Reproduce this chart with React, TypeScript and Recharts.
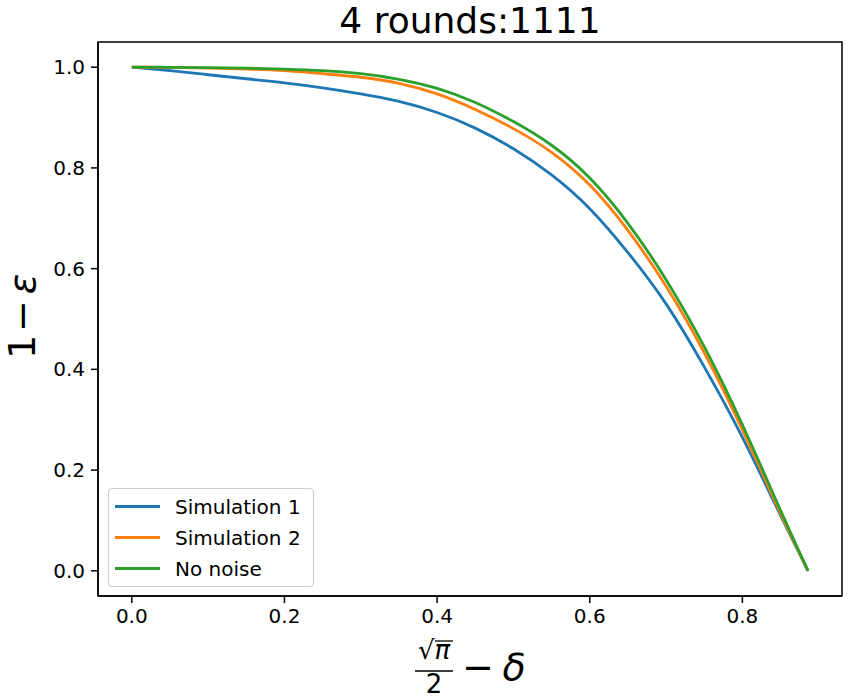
import React from 'react';
import { LineChart, Line, XAxis, YAxis, Legend, ReferenceArea, Label } from 'recharts';

const xValues = [0, 0.05, 0.1, 0.15, 0.2, 0.25, 0.3, 0.35, 0.4, 0.45, 0.5, 0.55, 0.6, 0.65, 0.7, 0.75, 0.8, 0.85, 0.886];
const simulation1 = [1.0, 0.993, 0.985, 0.977, 0.969, 0.959, 0.947, 0.932, 0.91, 0.879, 0.838, 0.786, 0.719, 0.632, 0.53, 0.405, 0.265, 0.11, 0.0];
const simulation2 = [1.0, 0.9995, 0.998, 0.996, 0.993, 0.987, 0.98, 0.968, 0.947, 0.916, 0.878, 0.831, 0.766, 0.676, 0.565, 0.433, 0.28, 0.114, 0.0];
const noNoise = [1.0, 0.9998, 0.999, 0.998, 0.996, 0.993, 0.987, 0.976, 0.958, 0.93, 0.892, 0.845, 0.78, 0.69, 0.578, 0.445, 0.29, 0.12, 0.0];
const xTicks = [0, 0.2, 0.4, 0.6, 0.8];
const yTicks = [0, 0.2, 0.4, 0.6, 0.8, 1.0];
const xDomain = [-0.0443, 0.9305];
const yDomain = [-0.05, 1.05];
const titleText = '4 rounds:1111';
const legendOrder = ['Simulation 1', 'Simulation 2', 'No noise'];

const data = xValues.map((x, i) => ({ x, s1: simulation1[i], s2: simulation2[i], nn: noNoise[i] }));

const FONT = '"DejaVu Sans", sans-serif';

const XLabel = (props: any) => {
  const vb = props.viewBox || {};
  const cx = vb.x + vb.width / 2;
  const top = vb.y;
  const fx = cx - 36;
  return (
    <g fontFamily={FONT} fill="#000">
      <text x={fx} y={top + 63} fontSize={26} textAnchor="middle">
        √<tspan fontStyle="italic">π</tspan>
      </text>
      <line x1={fx + 1} x2={fx + 19} y1={top + 45} y2={top + 45} stroke="#000" strokeWidth={1.3} />
      <line x1={fx - 19} x2={fx + 19} y1={top + 75} y2={top + 75} stroke="#000" strokeWidth={1.5} />
      <text x={fx} y={top + 97} fontSize={26} textAnchor="middle">2</text>
      <text x={cx + 8} y={top + 84} fontSize={38} textAnchor="middle">−</text>
      <text x={cx + 44} y={top + 84} fontSize={38} textAnchor="middle" fontStyle="italic">δ</text>
    </g>
  );
};

const YLabel = (props: any) => {
  const vb = props.viewBox || {};
  const bx = vb.x + 34.5;
  const cy = 42 + (596 - 42) / 2 - 3;
  return (
    <g fontFamily={FONT} fill="#000" transform={`translate(${bx}, ${cy}) rotate(-90)`}>
      <text x={-31} y={0} fontSize={38} textAnchor="middle">1</text>
      <text x={0} y={0} fontSize={38} textAnchor="middle">−</text>
      <text x={32} y={0} fontSize={38} textAnchor="middle" fontStyle="italic">ε</text>
    </g>
  );
};

const TitleLabel = (props: any) => {
  const vb = props.viewBox || {};
  return (
    <text
      x={vb.x + vb.width / 2}
      y={vb.y - 9}
      textAnchor="middle"
      fontFamily={FONT}
      fontSize={36}
      fill="#000"
    >
      {titleText}
    </text>
  );
};

const LegendBox = (props: any) => {
  const payload = [...(props.payload || [])].sort(
    (a: any, b: any) => legendOrder.indexOf(a.value) - legendOrder.indexOf(b.value)
  );
  return (
    <div
      style={{
        width: 206,
        height: 99,
        boxSizing: 'border-box',
        border: '1px solid #cccccc',
        borderRadius: 4,
        background: 'rgba(255,255,255,0.8)',
        paddingTop: 2,
        paddingLeft: 6,
        fontFamily: FONT,
        fontSize: 20,
        color: '#000',
      }}
    >
      {payload.map((entry: any) => (
        <div key={entry.value} style={{ display: 'flex', alignItems: 'center', height: 31 }}>
          <div style={{ width: 45, height: 3, background: entry.color }} />
          <span style={{ marginLeft: 15, whiteSpace: 'nowrap' }}>{entry.value}</span>
        </div>
      ))}
    </div>
  );
};

export default function App() {
  return (
    <div style={{ position: 'absolute', left: 0, top: 0, width: 848, height: 699, background: '#fff' }}>
      <LineChart width={848} height={699} data={data} margin={{ top: 42, right: 6, bottom: 0, left: 0 }}>
        <XAxis
          type="number"
          dataKey="x"
          domain={xDomain}
          ticks={xTicks}
          allowDataOverflow
          height={103}
          tickFormatter={(v: number) => v.toFixed(1)}
          tick={{ fontFamily: FONT, fontSize: 20, fill: '#000' }}
          tickSize={7}
          tickMargin={6}
          axisLine={{ stroke: '#000', strokeWidth: 1.5 }}
          tickLine={{ stroke: '#000', strokeWidth: 1.5 }}
        >
          <Label content={<XLabel />} />
        </XAxis>
        <YAxis
          type="number"
          domain={yDomain}
          ticks={yTicks}
          allowDataOverflow
          width={98}
          tickFormatter={(v: number) => v.toFixed(1)}
          tick={{ fontFamily: FONT, fontSize: 20, fill: '#000' }}
          tickSize={7}
          tickMargin={6}
          axisLine={{ stroke: '#000', strokeWidth: 1.5 }}
          tickLine={{ stroke: '#000', strokeWidth: 1.5 }}
        >
          <Label content={<YLabel />} />
        </YAxis>
        <ReferenceArea
          x1={xDomain[0]}
          x2={xDomain[1]}
          y1={yDomain[0]}
          y2={yDomain[1]}
          fill="none"
          fillOpacity={0}
          stroke="#000"
          strokeWidth={1.5}
          ifOverflow="visible"
          label={<TitleLabel />}
        />
        <Line type="natural" dataKey="s1" name="Simulation 1" stroke="#1f77b4" strokeWidth={2.8} dot={false} isAnimationActive={false} />
        <Line type="natural" dataKey="s2" name="Simulation 2" stroke="#ff7f0e" strokeWidth={2.8} dot={false} isAnimationActive={false} />
        <Line type="natural" dataKey="nn" name="No noise" stroke="#2ca02c" strokeWidth={2.8} dot={false} isAnimationActive={false} />
        <Legend
          layout="vertical"
          verticalAlign="middle"
          align="center"
          content={<LegendBox />}
          wrapperStyle={{ left: 108, top: 488, width: 206, height: 99, right: 'auto', bottom: 'auto', margin: 0 }}
        />
      </LineChart>
    </div>
  );
}
